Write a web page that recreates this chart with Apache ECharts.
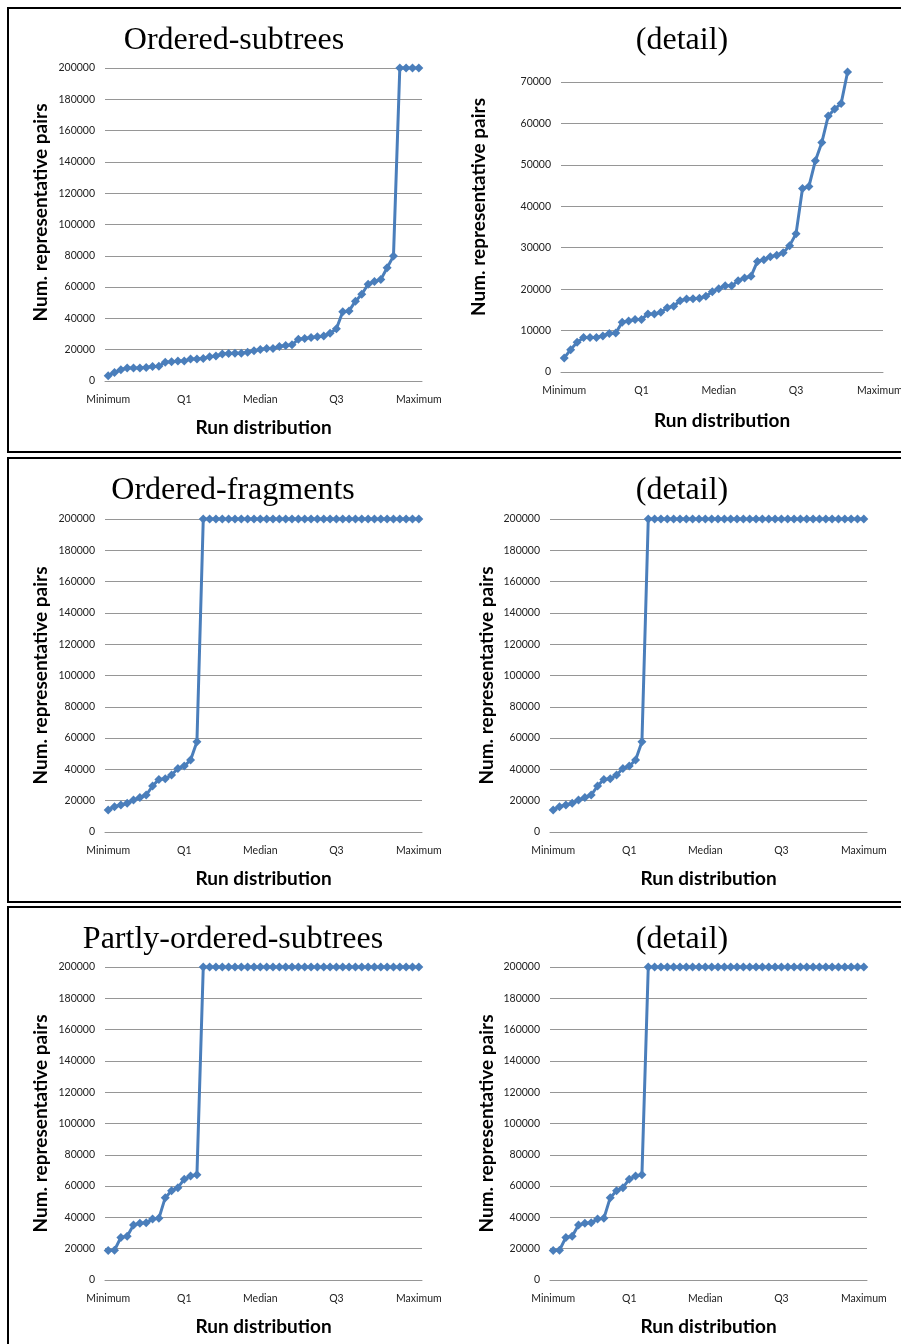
<!DOCTYPE html>
<html>
<head>
<meta charset="utf-8">
<title>Num. representative pairs by run distribution</title>
<script src="https://cdn.jsdelivr.net/npm/echarts@6.0.0/dist/echarts.min.js"></script>
<style>
  html, body { margin: 0; padding: 0; background: #fff; }
  #main { width: 901px; height: 1344px; }
</style>
</head>
<body>
<div id="main"></div>
<script>
// x axis: 50 runs sorted by size, only five of them get a label
const runCount = 50;
const quartileLabels = ['Minimum', 'Q1', 'Median', 'Q3', 'Maximum'];
const quartileIndex = [0, 12, 24, 36, 49];

// y axis ticks
const fullMax = 200000;
const fullStep = 20000;
const detailMax = 70000;
const detailStep = 10000;

// values (200000 = run hit the limit)
const orderedSubtrees = [
    3400, 5400, 7200, 8300, 8300, 8300, 8700, 9300, 9400, 12000,
    12300, 12700, 12700, 14000, 14000, 14400, 15500, 15900, 17200, 17600,
    17700, 17800, 18300, 19400, 20100, 20800, 20800, 22000, 22700, 23100,
    26700, 27100, 27800, 28200, 28800, 30500, 33400, 44300, 44800, 51000,
    55400, 61800, 63500, 64800, 72400, 79800, 200000, 200000, 200000, 200000
];
// the detail plot stops before the 80000 run
const subtreesDetail = orderedSubtrees.slice(0, 45);

const orderedFragments = [
    14000, 16200, 17200, 18300, 20400, 22100, 23600, 29400, 33600, 34000,
    36400, 40600, 42100, 46000, 57700, 200000, 200000, 200000, 200000, 200000,
    200000, 200000, 200000, 200000, 200000, 200000, 200000, 200000, 200000, 200000,
    200000, 200000, 200000, 200000, 200000, 200000, 200000, 200000, 200000, 200000,
    200000, 200000, 200000, 200000, 200000, 200000, 200000, 200000, 200000, 200000
];

const partlyOrderedSubtrees = [
    18800, 19000, 27200, 28000, 35100, 36200, 36600, 38900, 39400, 52600,
    57100, 59000, 64400, 66500, 67200, 200000, 200000, 200000, 200000, 200000,
    200000, 200000, 200000, 200000, 200000, 200000, 200000, 200000, 200000, 200000,
    200000, 200000, 200000, 200000, 200000, 200000, 200000, 200000, 200000, 200000,
    200000, 200000, 200000, 200000, 200000, 200000, 200000, 200000, 200000, 200000
];

const categories = [];
for (let i = 0; i < runCount; i++) {
    const k = quartileIndex.indexOf(i);
    categories.push(k >= 0 ? quartileLabels[k] : '');
}

// one entry per small chart: title, data, and where it sits on the page
// namePad pushes the y axis title up a little (top row only)
const panels = [
    { title: 'Ordered-subtrees', data: orderedSubtrees, max: fullMax, step: fullStep,
      grid: { left: 105, top: 68, width: 317, height: 313 }, titleX: 234, titleY: 25, nameGap: 55, namePad: 24, xNameGap: 37 },
    { title: '(detail)', data: subtreesDetail, max: detailMax, step: detailStep,
      grid: { left: 561, top: 82, width: 322, height: 290 }, titleX: 682, titleY: 25, nameGap: 73, namePad: 40, xNameGap: 39 },
    { title: 'Ordered-fragments', data: orderedFragments, max: fullMax, step: fullStep,
      grid: { left: 105, top: 519, width: 317, height: 313 }, titleX: 233, titleY: 475, nameGap: 55, namePad: 0, xNameGap: 37 },
    { title: '(detail)', data: orderedFragments, max: fullMax, step: fullStep,
      grid: { left: 550, top: 519, width: 317, height: 313 }, titleX: 682, titleY: 475, nameGap: 54, namePad: 0, xNameGap: 37 },
    { title: 'Partly-ordered-subtrees', data: partlyOrderedSubtrees, max: fullMax, step: fullStep,
      grid: { left: 105, top: 967, width: 317, height: 313 }, titleX: 233, titleY: 924, nameGap: 55, namePad: 0, xNameGap: 37 },
    { title: '(detail)', data: partlyOrderedSubtrees, max: fullMax, step: fullStep,
      grid: { left: 550, top: 967, width: 317, height: 313 }, titleX: 682, titleY: 924, nameGap: 54, namePad: 0, xNameGap: 37 }
];

const blue = '#4a7ebb';
const gridGray = '#969696';
const nameFont = { fontFamily: 'Lato', fontSize: 19, fontWeight: 'bold', color: '#000' };
const tickFont = { fontFamily: 'Lato', fontSize: 10.5, color: '#222' };

const option = {
    animation: false,
    backgroundColor: '#fff',
    title: panels.map(p => ({
        text: p.title,
        left: p.titleX,
        top: p.titleY,
        textAlign: 'center',
        padding: 0,
        textStyle: { fontFamily: 'Liberation Serif', fontSize: 32, fontWeight: 'normal', color: '#000' }
    })),
    grid: panels.map(p => Object.assign({ containLabel: false, outerBoundsMode: 'none' }, p.grid)),
    xAxis: panels.map((p, i) => ({
        type: 'category',
        gridIndex: i,
        data: categories,
        boundaryGap: true,
        name: 'Run distribution',
        nameLocation: 'middle',
        nameGap: p.xNameGap,
        nameTextStyle: nameFont,
        axisTick: { show: false },
        axisLine: { lineStyle: { color: gridGray, width: 1 } },
        axisLabel: Object.assign({ interval: 0, margin: 13 }, tickFont),
        splitLine: { show: false }
    })),
    yAxis: panels.map((p, i) => ({
        type: 'value',
        gridIndex: i,
        min: 0,
        max: p.max,
        interval: p.step,
        name: 'Num. representative pairs',
        nameLocation: 'middle',
        nameRotate: 90,
        nameGap: p.nameGap,
        nameTextStyle: Object.assign({ padding: [0, 0, 0, p.namePad] }, nameFont),
        axisLine: { show: false },
        axisTick: { show: false },
        axisLabel: Object.assign({ margin: 10, formatter: v => String(v) }, tickFont),
        splitLine: { lineStyle: { color: gridGray, width: 1 } }
    })),
    series: panels.map((p, i) => ({
        type: 'line',
        xAxisIndex: i,
        yAxisIndex: i,
        data: p.data,
        clip: false,
        symbol: 'diamond',
        symbolSize: 9,
        showAllSymbol: true,
        lineStyle: { color: blue, width: 3 },
        itemStyle: { color: blue }
    })),
    // the three framed boxes
    graphic: [
        { type: 'rect', silent: true, z: -1, shape: { x: 8, y: 8, width: 900, height: 444 },
          style: { fill: 'none', stroke: '#000', lineWidth: 2 } },
        { type: 'rect', silent: true, z: -1, shape: { x: 8, y: 458, width: 900, height: 444 },
          style: { fill: 'none', stroke: '#000', lineWidth: 2 } },
        { type: 'rect', silent: true, z: -1, shape: { x: 8, y: 907, width: 900, height: 500 },
          style: { fill: 'none', stroke: '#000', lineWidth: 2 } }
    ]
};

const myChart = echarts.init(document.getElementById('main'));
myChart.setOption(option);
</script>
</body>
</html>
